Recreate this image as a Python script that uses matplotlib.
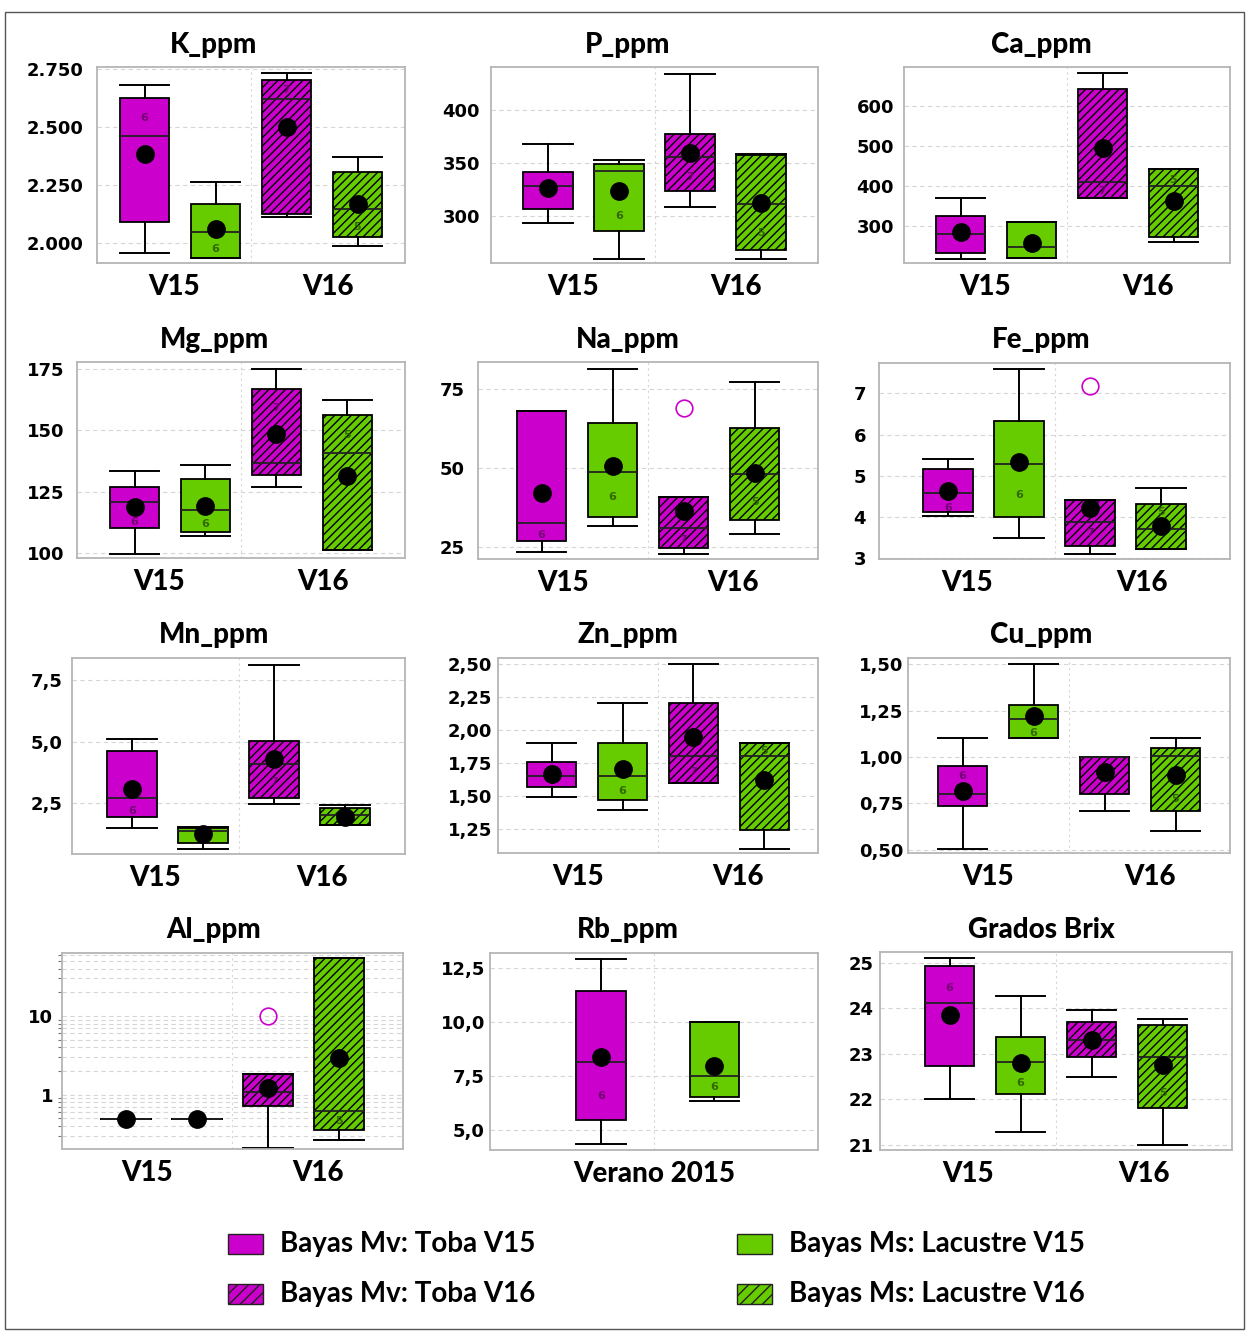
import matplotlib
matplotlib.use("Agg")
import matplotlib.pyplot as plt
from matplotlib.patches import Rectangle
from matplotlib.ticker import FixedLocator, FuncFormatter, NullFormatter, LogLocator

# ---------------- data ----------------
titles = ["K_ppm", "P_ppm", "Ca_ppm", "Mg_ppm", "Na_ppm", "Fe_ppm",
          "Mn_ppm", "Zn_ppm", "Cu_ppm", "Al_ppm", "Rb_ppm", "Grados Brix"]

# box order: Mv Toba V15, Ms Lacustre V15, Mv Toba V16, Ms Lacustre V16
whis_lo = [
    [1956, 1934, 2111, 1989],
    [294, 260, 309, 260],
    [218, 219, 369, 260],
    [99.7, 107, 127, 101.3],
    [23.4, 31.7, 22.9, 29.1],
    [4.03, 3.50, 3.10, 3.22],
    [1.48, 0.60, 2.47, 1.59],
    [1.494, 1.396, 1.598, 1.099],
    [0.504, 1.104, 0.706, 0.598],
    [0.49, 0.49, 0.21, 0.264],
    [4.34, 6.36],
    [22.01, 21.29, 22.49, 21.0],
]
q1 = [
    [2089, 1934, 2124, 2025],
    [307, 286, 324, 268],
    [232, 219, 369, 272],
    [110.4, 108.4, 131.6, 101.3],
    [27.0, 34.6, 24.9, 33.6],
    [4.11, 4.01, 3.30, 3.22],
    [1.93, 0.87, 2.68, 1.59],
    [1.568, 1.472, 1.598, 1.245],
    [0.733, 1.104, 0.801, 0.706],
    [0.49, 0.49, 0.73, 0.36],
    [5.46, 6.52],
    [22.74, 22.12, 22.93, 21.81],
]
median = [
    [2462, 2046, 2619, 2145],
    [328, 342.5, 355.6, 311.2],
    [280, 247, 411, 400],
    [120.9, 117.6, 136.7, 140.8],
    [32.7, 48.7, 31.2, 48.0],
    [4.58, 5.29, 3.89, 3.70],
    [2.68, 1.36, 4.07, 2.0],
    [1.655, 1.655, 1.804, 1.804],
    [0.801, 1.203, 1.0, 1.005],
    [0.49, 0.49, 1.07, 0.615],
    [8.14, 7.52],
    [24.12, 22.82, 23.31, 22.93],
]
q3 = [
    [2624, 2167, 2703, 2307],
    [341.5, 348.7, 376.9, 357.5],
    [325, 309, 644, 442.5],
    [127.0, 130.1, 166.9, 156.1],
    [67.9, 64.2, 40.9, 62.6],
    [5.17, 6.34, 4.41, 4.31],
    [4.61, 1.48, 5.02, 2.27],
    [1.759, 1.905, 2.203, 1.905],
    [0.953, 1.280, 1.0, 1.050],
    [0.49, 0.49, 1.84, 53.8],
    [11.46, 10.0],
    [24.93, 23.37, 23.70, 23.64],
]
whis_hi = [
    [2681, 2264, 2731, 2372],
    [367.5, 352.5, 433.7, 358.1],
    [371, 309, 683, 442.5],
    [133.5, 135.7, 175.0, 162.1],
    [67.9, 81.3, 40.9, 77.1],
    [5.41, 7.60, 4.41, 4.70],
    [5.10, 1.50, 8.14, 2.41],
    [1.905, 2.203, 2.50, 1.905],
    [1.104, 1.50, 1.0, 1.104],
    [0.49, 0.49, 1.84, 53.8],
    [12.93, 10.0],
    [25.11, 24.27, 23.97, 23.77],
]
means = [
    [2382, 2060, 2501, 2167],
    [326.5, 323.7, 359.4, 311.9],
    [284, 258, 494, 362.5],
    [118.9, 119.3, 148.6, 131.3],
    [42.0, 50.7, 36.5, 48.3],
    [4.62, 5.33, 4.21, 3.77],
    [3.06, 1.22, 4.28, 1.93],
    [1.666, 1.706, 1.946, 1.623],
    [0.819, 1.222, 0.918, 0.903],
    [0.49, 0.49, 1.22, 2.91],
    [8.40, 7.98],
    [23.86, 22.80, 23.31, 22.76],
]
outliers = [
    [[], [], [], []], [[], [], [], []], [[], [], [], []], [[], [], [], []],
    [[], [], [68.9], []],
    [[], [], [7.18], []],
    [[], [], [], []], [[], [], [], []], [[], [], [], []],
    [[], [], [10.0], []],
    [[], []],
    [[], [], [], []],
]
n_counts = [[6, 6, 7, 5]] * 10 + [[6, 6]] + [[6, 6, 7, 5]]
# y value where the small "n" label is printed (None = hidden behind mean dot)
n_label_y = [
    [2540, 1973, 2660, 2070],
    [None, 300, 336.8, 283.8],
    [None, None, 388, 415],
    [112.8, 111.9, 158.8, 148],
    [28.9, 40.7, 27.3, 39.3],
    [4.21, 4.53, 3.61, 4.11],
    [2.17, None, 3.36, None],
    [None, 1.542, 1.686, 1.842],
    [0.898, 1.127, None, 0.773],
    [None, None, None, 0.47],
    [6.59, 6.98],
    [24.45, 22.36, None, 22.14],
]
y_ticks = [
    [2000, 2250, 2500, 2750],
    [300, 350, 400],
    [300, 400, 500, 600],
    [100, 125, 150, 175],
    [25, 50, 75],
    [3, 4, 5, 6, 7],
    [2.5, 5.0, 7.5],
    [1.25, 1.50, 1.75, 2.00, 2.25, 2.50],
    [0.50, 0.75, 1.00, 1.25, 1.50],
    [1, 10],
    [5.0, 7.5, 10.0, 12.5],
    [21, 22, 23, 24, 25],
]
y_decimals = [-1, 0, 0, 0, 0, 0, 1, 2, 2, 0, 1, 0]   # -1: thousands with '.'
y_limits = [
    (1914, 2758), (256, 440), (207, 698), (98, 177.7), (21.3, 83.4),
    (2.98, 7.74), (0.41, 8.41), (1.068, 2.548), (0.482, 1.534),
    (0.205, 63), (4.07, 13.2), (20.89, 25.24),
]
group_labels = ["V15", "V16"]
rb_label = "Verano 2015"
legend_labels = ["Bayas Mv: Toba V15", "Bayas Mv: Toba V16",
                 "Bayas Ms: Lacustre V15", "Bayas Ms: Lacustre V16"]

# ---------------- layout / style ----------------
W, H, DPI = 1247, 1332, 100
MAG = "#CC00CC"
GRN = "#66CC00"
MAG_TXT = "#6a006a"
GRN_TXT = "#2d5e00"
box_colors = [MAG, GRN, MAG, GRN]
box_hatch = [None, None, "////", "////"]
txt_colors = [MAG_TXT, GRN_TXT, MAG_TXT, GRN_TXT]

# axes pixel boxes: left, right, top, bottom
axes_px = [
    (97, 405, 67, 263), (491, 818, 67, 263), (904, 1230, 67, 263),
    (77, 405, 362, 558), (478, 818, 362, 559), (879, 1230, 363, 559),
    (72, 405, 658, 854), (498, 818, 658, 853), (908, 1230, 658, 853),
    (62, 403, 953, 1149), (490, 818, 953, 1150), (880, 1232, 952, 1150),
]
ylab_pad_px = [14, 11, 10, 13, 13, 13, 9, 6, 5, 9, 5, 6]
col_centers = [214, 628, 1041]
row_title_y = [45, 340, 635, 930]

plt.rcParams["hatch.linewidth"] = 1.0
TICKFONT = dict(family="DejaVu Sans", weight="bold", size=13)
LABFONT = "Lato"
LABWEIGHT = "black"

fig = plt.figure(figsize=(W / DPI, H / DPI), dpi=DPI)
fig.patch.set_facecolor("white")

# outer frame
fig.add_artist(Rectangle((5 / W, 1 - 1329 / H), 1239 / W, 1317 / H,
                         transform=fig.transFigure, fill=False,
                         edgecolor="#555555", lw=1.0))

PX_PER_UNIT = 71.0


def make_fmt(dec):
    if dec == -1:
        return FuncFormatter(lambda v, p: f"{v:,.0f}".replace(",", "."))
    return FuncFormatter(lambda v, p: f"{v:.{dec}f}".replace(".", ","))


for i, name in enumerate(titles):
    l, r, t, b = axes_px[i]
    ax = fig.add_axes([l / W, 1 - b / H, (r - l) / W, (b - t) / H])
    span = (r - l) / PX_PER_UNIT
    x0, x1 = 2.5 - span / 2, 2.5 + span / 2
    nb = len(q1[i])
    pos = [1, 2, 3, 4] if nb == 4 else [1.75, 3.35]

    if i == 9:
        ax.set_yscale("log")

    stats = []
    for j in range(nb):
        stats.append(dict(med=median[i][j], q1=q1[i][j], q3=q3[i][j],
                          whislo=whis_lo[i][j], whishi=whis_hi[i][j],
                          mean=means[i][j], fliers=outliers[i][j]))
    bp = ax.bxp(stats, positions=pos, widths=0.7, capwidths=0.7,
                patch_artist=True, showmeans=True, showfliers=True,
                boxprops=dict(edgecolor="black", linewidth=1.3),
                medianprops=dict(color="#222222", linewidth=1.3),
                whiskerprops=dict(color="black", linewidth=1.4),
                capprops=dict(color="black", linewidth=1.4),
                meanprops=dict(marker="o", markerfacecolor="black",
                               markeredgecolor="black", markersize=12.5),
                flierprops=dict(marker="o", markerfacecolor="none",
                                markeredgecolor=MAG, markersize=12,
                                markeredgewidth=1.2))
    for j, patch in enumerate(bp["boxes"]):
        patch.set_facecolor(box_colors[j])
        if box_hatch[j]:
            patch.set_hatch(box_hatch[j])
    for j, fl in enumerate(bp["fliers"]):
        fl.set_markeredgecolor(box_colors[j])
    for m in bp["means"]:
        m.set_zorder(6)

    for j in range(nb):
        yv = n_label_y[i][j]
        if yv is not None:
            ax.text(pos[j], yv, str(n_counts[i][j]), ha="center", va="center",
                    fontsize=8, fontweight="bold", color=txt_colors[j],
                    zorder=5, alpha=0.9)

    ax.set_xlim(x0, x1)
    ax.set_ylim(*y_limits[i])

    # grid
    ax.set_axisbelow(True)
    ax.yaxis.set_major_locator(FixedLocator(y_ticks[i]))
    ax.yaxis.set_major_formatter(make_fmt(y_decimals[i]))
    ax.grid(axis="y", which="major", color="#d6d6d6", linestyle=(0, (4, 3)), lw=0.8)
    if i == 9:
        ax.yaxis.set_minor_locator(LogLocator(base=10, subs=range(2, 10)))
        ax.yaxis.set_minor_formatter(NullFormatter())
        ax.grid(axis="y", which="minor", color="#d6d6d6", linestyle=(0, (4, 3)), lw=0.8)
        ax.tick_params(axis="y", which="minor", length=3, width=0.8, color="#777777")
    else:
        ax.yaxis.set_minor_locator(FixedLocator([]))
    ax.axvline(2.5, color="#d6d6d6", linestyle=(0, (2, 3)), lw=0.8, zorder=0)

    ax.tick_params(axis="y", which="major", length=0, pad=ylab_pad_px[i] * 0.72)
    for lab in ax.get_yticklabels():
        lab.set_fontfamily(TICKFONT["family"])
        lab.set_fontweight(TICKFONT["weight"])
        lab.set_fontsize(TICKFONT["size"])

    if nb == 4:
        ax.set_xticks([x0 + span / 4, x0 + 3 * span / 4])
        ax.set_xticklabels(group_labels)
    else:
        ax.set_xticks([2.5])
        ax.set_xticklabels([rb_label])
    ax.tick_params(axis="x", length=0, pad=8)
    for lab in ax.get_xticklabels():
        lab.set_fontfamily(LABFONT)
        lab.set_fontweight(LABWEIGHT)
        lab.set_fontsize(20)

    for sp in ax.spines.values():
        sp.set_color("#b5b5b5")
        sp.set_linewidth(1.3)

    row, col = divmod(i, 3)
    fig.text(col_centers[col] / W, 1 - row_title_y[row] / H, name,
             ha="center", va="center", fontfamily=LABFONT,
             fontweight=LABWEIGHT, fontsize=20)

# ---------------- legend ----------------
leg_cols_px = [228, 737]
leg_rows_px = [1244, 1294]
leg_colors = [MAG, MAG, GRN, GRN]
leg_hatch = [None, "///", None, "///"]
for k, lab in enumerate(legend_labels):
    cx = leg_cols_px[k // 2]
    cy = leg_rows_px[k % 2]
    fig.add_artist(Rectangle((cx / W, 1 - (cy + 10) / H), 35 / W, 20 / H,
                             transform=fig.transFigure, facecolor=leg_colors[k],
                             edgecolor="#222222", lw=1.0, hatch=leg_hatch[k]))
    fig.text((cx + 52) / W, 1 - cy / H, lab, ha="left", va="center",
             fontfamily=LABFONT, fontweight="bold", fontsize=20)

fig.savefig("out.png", dpi=DPI)
